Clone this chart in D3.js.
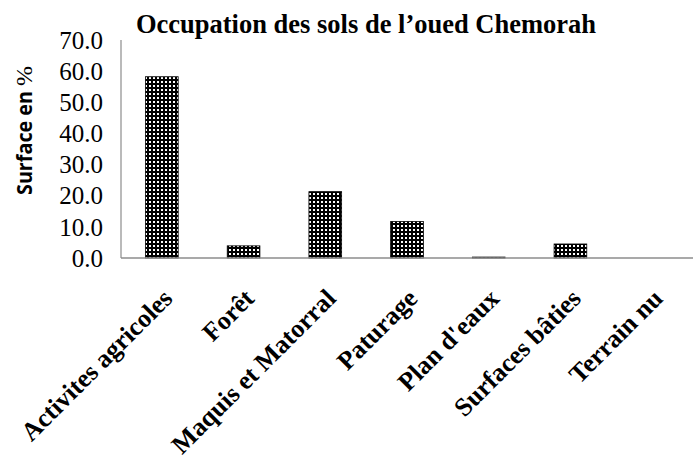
<!DOCTYPE html>
<html>
<head>
<meta charset="utf-8">
<script src="https://cdn.jsdelivr.net/npm/d3@7"></script>
<style>
  body { margin: 0; background: #fff; }
  svg { display: block; }
</style>
</head>
<body>
<svg id="chart" width="699" height="460"></svg>
<script>
"use strict";

// ---- Data
const categories = ["Activites agricoles", "Forêt", "Maquis et Matorral", "Paturage",
                    "Plan d'eaux", "Surfaces bâties", "Terrain nu"];
const values = [58.2, 3.9, 21.3, 11.7, 0.3, 4.5, 0.0];
const yTicks = [0, 10, 20, 30, 40, 50, 60, 70];

const svg = d3.select("#chart");
const M = {top: 40, left: 121, right: 6, bottom: 202};
const W = 699, H = 460;

const x = d3.scaleBand().domain(categories).range([M.left, W - M.right]).paddingInner(0.6).paddingOuter(0.3);
const y = d3.scaleLinear().domain([0, 70]).range([H - M.bottom, M.top]);

// ---- Dotted fill pattern
const defs = svg.append("defs");
const pat = defs.append("pattern").attr("id", "dots").attr("patternUnits", "userSpaceOnUse")
  .attr("width", 4).attr("height", 4);
pat.append("rect").attr("width", 4).attr("height", 4).attr("fill", "#000");
pat.append("rect").attr("x", 1).attr("y", 1).attr("width", 2).attr("height", 2).attr("fill", "#fff");

// ---- Bars
svg.append("g").selectAll("rect").data(values).enter().append("rect")
  .attr("x", (d, i) => x(categories[i]))
  .attr("y", d => y(d))
  .attr("width", x.bandwidth())
  .attr("height", d => y(0) - y(d))
  .attr("fill", "url(#dots)")
  .attr("stroke", "#000").attr("stroke-width", 0.8);

// ---- Axes lines
svg.append("line").attr("x1", M.left).attr("x2", M.left).attr("y1", y(70)).attr("y2", y(0))
  .attr("stroke", "#8c8c8c").attr("stroke-width", 1.2);
svg.append("line").attr("x1", M.left).attr("x2", W - M.right).attr("y1", y(0)).attr("y2", y(0))
  .attr("stroke", "#8c8c8c").attr("stroke-width", 1.5);

// ---- Y tick labels
svg.append("g").selectAll("text").data(yTicks).enter().append("text")
  .attr("x", 103).attr("y", d => y(d)).attr("dy", "0.35em")
  .attr("text-anchor", "end")
  .style("font-family", "'Liberation Serif', serif").style("font-size", "25px")
  .text(d => d.toFixed(1));

// ---- X labels (rotated)
svg.append("g").selectAll("text").data(categories).enter().append("text")
  .attr("transform", d => `translate(${x(d) + x.bandwidth() / 2 + 12},${y(0) + 42}) rotate(-45)`)
  .attr("text-anchor", "end")
  .style("font-family", "'Liberation Serif', serif").style("font-size", "26px").style("font-weight", "700")
  .text(d => d);

// ---- Title
svg.append("text").attr("x", 366).attr("y", 33).attr("text-anchor", "middle")
  .style("font-family", "'Liberation Serif', serif").style("font-size", "26.5px").style("font-weight", "700")
  .text("Occupation des sols de l’oued Chemorah");

// ---- Y axis title
svg.append("text").attr("transform", "translate(32,143) rotate(-90)").attr("text-anchor", "middle")
  .attr("textLength", 104).attr("lengthAdjust", "spacingAndGlyphs")
  .style("font-family", "'Open Sans', 'DejaVu Sans', sans-serif").style("font-size", "22px")
  .style("font-weight", "700").text("Surface en");
svg.append("text").attr("transform", "translate(32,76) rotate(-90)").attr("text-anchor", "middle")
  .style("font-family", "'Liberation Serif', serif").style("font-size", "24px").text("%");
</script>
</body>
</html>
